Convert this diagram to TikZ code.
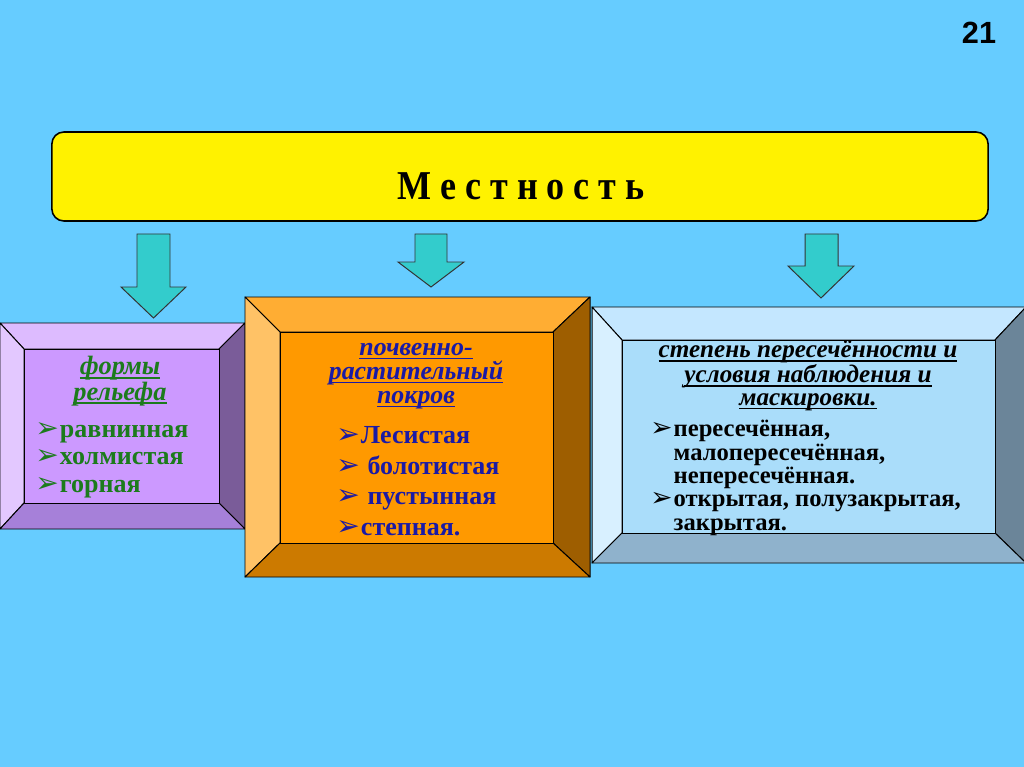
\documentclass[tikz,border=0pt]{standalone}
\usepackage{fontspec}
\usepackage{graphicx}
\setmainfont{Liberation Serif}
\newfontfamily\symfont{DejaVu Sans}
\newfontfamily\numfont{Liberation Sans}
\newcommand{\pointer}{\makebox[0.95em][l]{\scalebox{1.08}{\symfont ➢}}}
\newcommand{\ulbar}[1]{\setbox0\hbox{#1}\rlap{\rule[-2.8pt]{\wd0}{1.1pt}}\box0}

\definecolor{sky}{HTML}{66CCFF}
\definecolor{teal}{HTML}{33CCCC}
\definecolor{lilacmid}{HTML}{CC99FF}
\definecolor{lilactop}{HTML}{DDBBFF}
\definecolor{lilacleft}{HTML}{E3C8FF}
\definecolor{lilacright}{HTML}{7A5C99}
\definecolor{lilacbot}{HTML}{A680D9}
\definecolor{ambermid}{HTML}{FF9900}
\definecolor{ambertop}{HTML}{FFAD33}
\definecolor{amberleft}{HTML}{FFC266}
\definecolor{amberright}{HTML}{9E5E00}
\definecolor{amberbot}{HTML}{CC7A00}
\definecolor{icemid}{HTML}{AADDFA}
\definecolor{icetop}{HTML}{C4E7FF}
\definecolor{iceleft}{HTML}{D8F0FF}
\definecolor{iceright}{HTML}{6B8599}
\definecolor{icebot}{HTML}{8FB2CC}
\definecolor{leafgreen}{HTML}{1C7B1C}
\definecolor{inkblue}{HTML}{1A1AA6}

\tikzset{
  face/.style={draw=black, line width=0.7pt, line join=round},
  blockarrow/.style={fill=teal, draw=black!80, line width=0.7pt, line join=miter},
  mainbox/.style={fill=yellow, draw=black, line width=1.1pt, rounded corners=0.3cm,
    minimum width=23.4cm, minimum height=2.225cm},
  headtext/.style={align=center, inner sep=0pt},
  listtext/.style={align=left, inner sep=0pt, anchor=west},
}

\begin{document}
\begin{tikzpicture}[x=0.025cm, y=-0.025cm]
\useasboundingbox (0,0) rectangle (1024,767);
\fill[sky] (0,0) rectangle (1024,767);
% slide number
\node[font=\numfont\fontsize{21.8}{24}\selectfont\bfseries] (num) at (979,33) {21};
% top box
\node[mainbox] (frame) at (520,176.5) {};
\node[font=\fontsize{27}{30}\selectfont\bfseries] (mestn) at (521,186)
  {\scalebox{0.95}[1.08]{М е с т н о с т ь}};
% arrows
\draw[blockarrow] (137,234) -- (170,234) -- (170,287) -- (186,287) -- (153.5,318)
  -- (121,287) -- (137,287) -- cycle;
\draw[blockarrow] (415,234) -- (447,234) -- (447,262) -- (464,262) -- (431,287)
  -- (398,262) -- (415,262) -- cycle;
\draw[blockarrow] (805,234) -- (838,234) -- (838,266) -- (854,266) -- (821,298)
  -- (788,266) -- (805,266) -- cycle;
% left box: relief
\draw[face, fill=lilactop] (0,323) -- (245,323) -- (219,349) -- (24,349) -- cycle;
\draw[face, fill=lilacleft] (0,323) -- (24,349) -- (24,503) -- (0,529) -- cycle;
\draw[face, fill=lilacright] (245,323) -- (245,529) -- (219,503) -- (219,349) -- cycle;
\draw[face, fill=lilacbot] (0,529) -- (24,503) -- (219,503) -- (245,529) -- cycle;
\draw[face, fill=lilacmid] (24,349) rectangle (219,503);
% right box: crossing
\draw[face, fill=icetop] (592,307) -- (1026,307) -- (995,340) -- (622,340) -- cycle;
\draw[face, fill=iceleft] (592,307) -- (622,340) -- (622,533) -- (592,563) -- cycle;
\draw[face, fill=iceright] (1026,307) -- (1026,563) -- (995,533) -- (995,340) -- cycle;
\draw[face, fill=icebot] (592,563) -- (622,533) -- (995,533) -- (1026,563) -- cycle;
\draw[face, fill=icemid] (622,340) rectangle (995,533);
% middle box: cover
\draw[face, fill=ambertop] (245,297) -- (590,297) -- (553,332) -- (280,332) -- cycle;
\draw[face, fill=amberleft] (245,297) -- (280,332) -- (280,543) -- (245,577) -- cycle;
\draw[face, fill=amberright] (590,297) -- (590,577) -- (553,543) -- (553,332) -- cycle;
\draw[face, fill=amberbot] (245,577) -- (280,543) -- (553,543) -- (590,577) -- cycle;
\draw[face, fill=ambermid] (280,332) rectangle (553,543);
% texts
\node[headtext, text=leafgreen, font=\fontsize{18.8}{16.4}\selectfont\bfseries\itshape]
  (reliefhead) at (120,381) {\ulbar{формы}\\\ulbar{рельефа}};
\node[listtext, text=leafgreen, font=\fontsize{18.5}{19.6}\selectfont\bfseries]
  (relieflist) at (35,460) {\pointer равнинная\\\pointer холмистая\\\pointer горная};
\node[headtext, text=inkblue, font=\fontsize{18.4}{17}\selectfont\bfseries\itshape]
  (coverhead) at (416,376) {\ulbar{почвенно-}\\\ulbar{растительный}\\\ulbar{покров}};
\node[listtext, text=inkblue, font=\fontsize{18.5}{21.8}\selectfont\bfseries]
  (coverlist) at (336,481)
  {\pointer Лесистая\\\pointer\ болотистая\\\pointer\ пустынная\\\pointer степная.};
\node[headtext, text=black, font=\fontsize{17.9}{16.2}\selectfont\bfseries\itshape]
  (crosshead) at (808,376)
  {\ulbar{степень пересечённости и}\\\ulbar{условия наблюдения и}\\\ulbar{маскировки.}};
\node[listtext, text=black, font=\fontsize{17.5}{16.6}\selectfont\bfseries]
  (crosslist) at (650,478)
  {\pointer пересечённая,\\\hspace*{0.95em}малопересечённая,\\\hspace*{0.95em}непересечённая.\\
   \pointer открытая, полузакрытая,\\\hspace*{0.95em}закрытая.};
\end{tikzpicture}
\end{document}
